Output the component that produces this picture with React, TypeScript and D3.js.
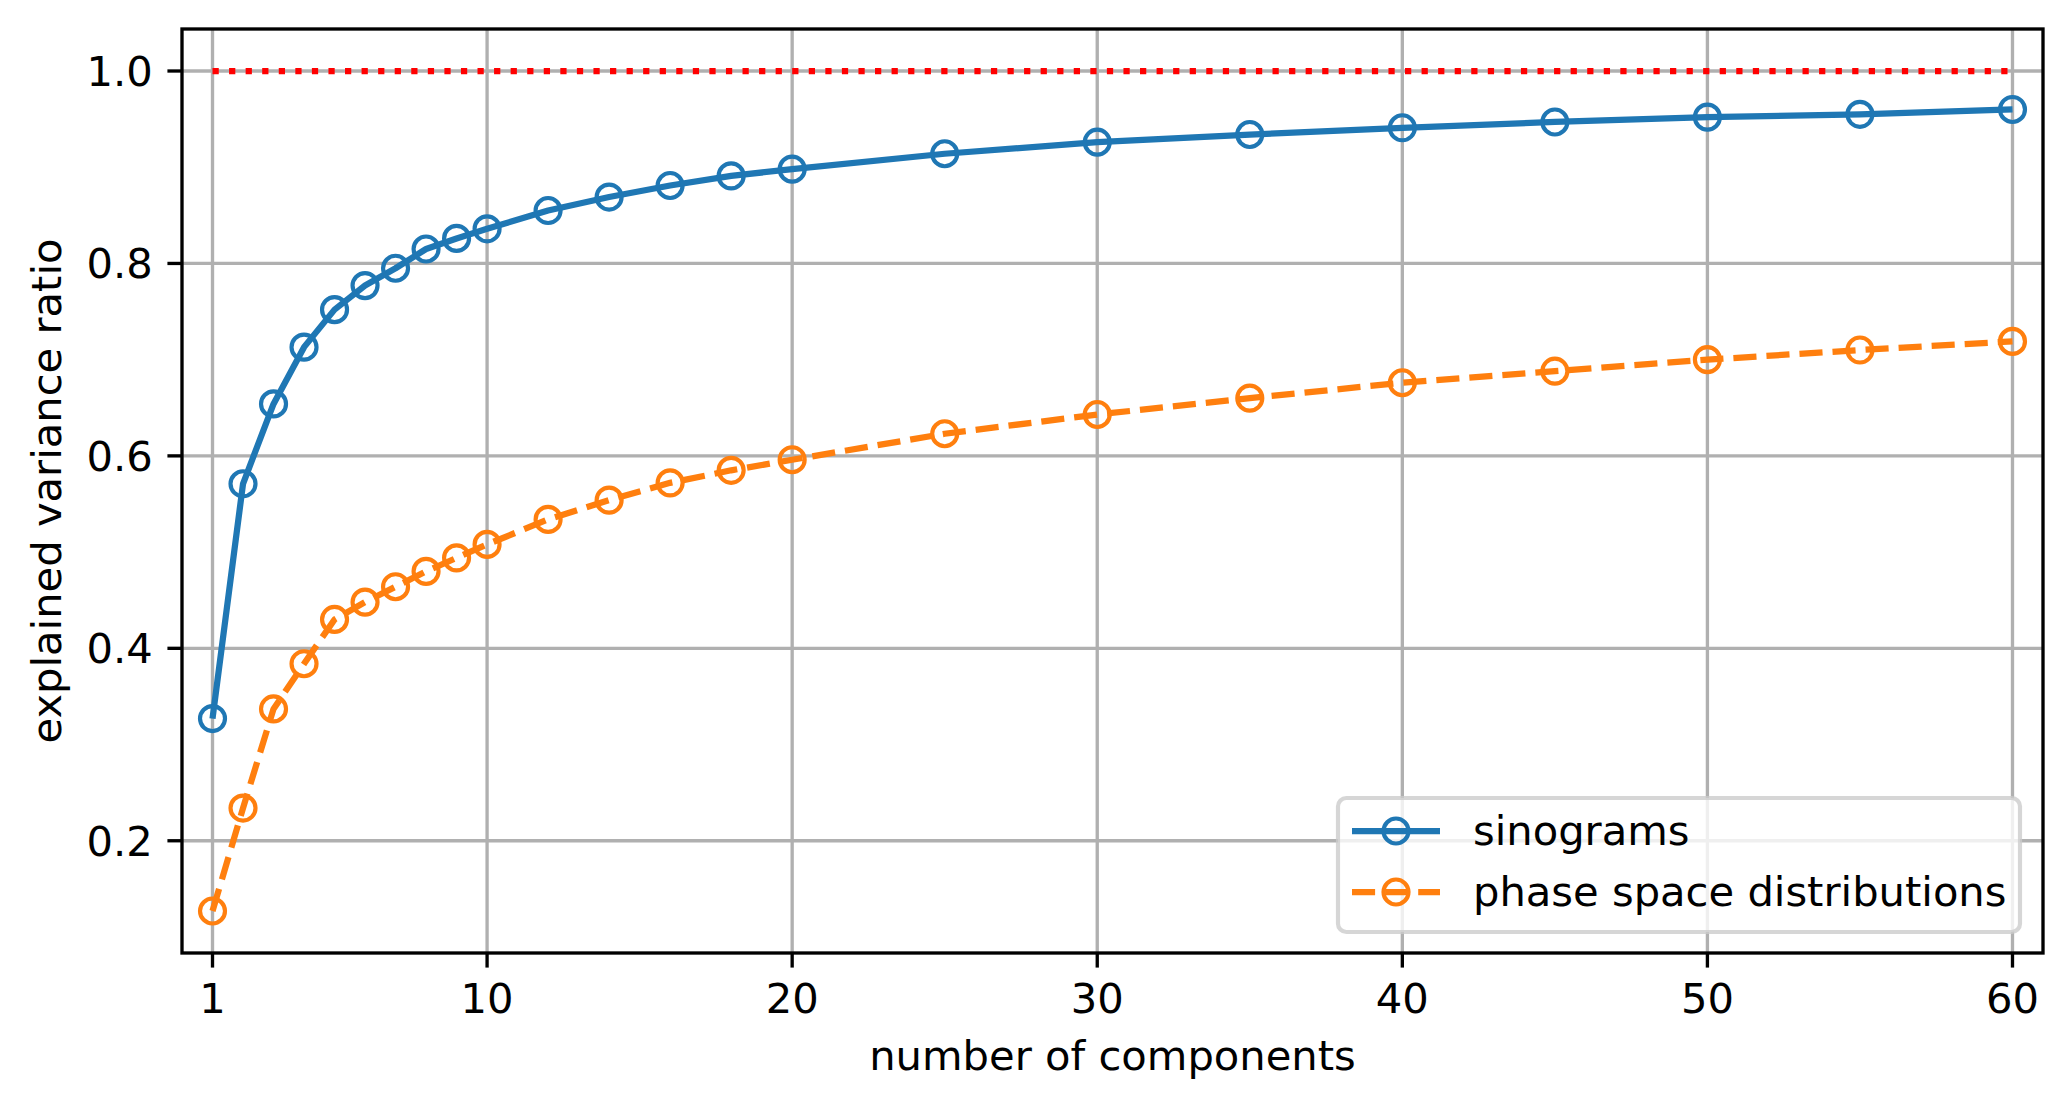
import { useEffect } from 'react';
import * as d3 from 'd3';

// number of PCA components kept
const components = [1, 2, 3, 4, 5, 6, 7, 8, 9, 10, 12, 14, 16, 18, 20, 25, 30, 35, 40, 45, 50, 55, 60];
// cumulative explained variance ratio
const sinograms = [0.327, 0.571, 0.654, 0.713, 0.752, 0.777, 0.795, 0.815, 0.826, 0.836, 0.855, 0.869, 0.881, 0.891, 0.898, 0.914, 0.926, 0.934, 0.941, 0.947, 0.952, 0.955, 0.960];
const phaseSpace = [0.127, 0.234, 0.337, 0.384, 0.430, 0.448, 0.464, 0.480, 0.494, 0.508, 0.534, 0.554, 0.572, 0.585, 0.596, 0.623, 0.643, 0.660, 0.676, 0.688, 0.700, 0.710, 0.719];
const referenceLevel = 1.0;

const xTicks = [1, 10, 20, 30, 40, 50, 60];
const yTicks = [0.2, 0.4, 0.6, 0.8, 1.0];
const xLimits = [0, 61];

const series = [
  { name: 'sinograms', values: sinograms, color: '#1f77b4', dash: 'none' },
  { name: 'phase space distributions', values: phaseSpace, color: '#ff7f0e', dash: '23.1 10' },
];

const W = 2072, H = 1109;
const PT = 300 / 72; // matplotlib points -> px at 300 dpi
const M = { l: 182, r: 2043, t: 29, b: 953 };
const FONT = '"DejaVu Sans", sans-serif';
const FS = 10 * PT;

export default function App() {
  useEffect(() => { document.body.style.margin = '0'; }, []);

  const x = d3.scaleLinear().domain(xLimits).range([M.l, M.r]);
  const all = [...sinograms, ...phaseSpace, referenceLevel];
  const [lo, hi] = d3.extent(all) as [number, number];
  const pad = (hi - lo) * 0.05;
  const y = d3.scaleLinear().domain([lo - pad, hi + pad]).range([M.b, M.t]);

  const line = d3.line<number>()
    .x((_, i) => x(components[i]))
    .y(d => y(d));

  const lw = 1.5 * PT;
  const tickLen = 3.5 * PT;
  const r = 3 * PT;

  // legend box
  const lg = { x0: 1338, y0: 798, x1: 2020, y1: 932 };
  const rowY = [831, 892];
  const hx0 = 1352, hx1 = 1440;

  return (
    <svg width={W} height={H} viewBox={`0 0 ${W} ${H}`} style={{ display: 'block', background: '#fff' }}
      fontFamily={FONT}>
      <defs>
        <clipPath id="plotArea">
          <rect x={M.l} y={M.t} width={M.r - M.l} height={M.b - M.t} />
        </clipPath>
      </defs>
      <rect width={W} height={H} fill="#fff" />

      {/* grid */}
      <g stroke="#b0b0b0" strokeWidth={0.8 * PT}>
        {xTicks.map(t => <line key={'gx' + t} x1={x(t)} x2={x(t)} y1={M.t} y2={M.b} />)}
        {yTicks.map(t => <line key={'gy' + t} x1={M.l} x2={M.r} y1={y(t)} y2={y(t)} />)}
      </g>

      <g clipPath="url(#plotArea)">
        {series.map(s => (
          <g key={s.name}>
            <path d={line(s.values) ?? ''} fill="none" stroke={s.color} strokeWidth={lw}
              strokeDasharray={s.dash} strokeLinejoin="round" />
            {s.values.map((v, i) => (
              <circle key={i} cx={x(components[i])} cy={y(v)} r={r} fill="none"
                stroke={s.color} strokeWidth={PT} />
            ))}
          </g>
        ))}
        <line x1={x(components[0])} x2={x(components[components.length - 1])}
          y1={y(referenceLevel)} y2={y(referenceLevel)}
          stroke="#ff0000" strokeWidth={lw} strokeDasharray={`${lw} ${1.65 * lw}`} />
      </g>

      {/* spines */}
      <rect x={M.l} y={M.t} width={M.r - M.l} height={M.b - M.t} fill="none"
        stroke="#000" strokeWidth={0.8 * PT} strokeLinejoin="miter" />

      {/* x axis ticks */}
      <g fontSize={FS} fill="#000" textAnchor="middle">
        {xTicks.map(t => (
          <g key={'xt' + t}>
            <line x1={x(t)} x2={x(t)} y1={M.b} y2={M.b + tickLen} stroke="#000" strokeWidth={0.8 * PT} />
            <text x={x(t)} y={1013}>{t}</text>
          </g>
        ))}
      </g>
      {/* y axis ticks */}
      <g fontSize={FS} fill="#000" textAnchor="end">
        {yTicks.map(t => (
          <g key={'yt' + t}>
            <line x1={M.l - tickLen} x2={M.l} y1={y(t)} y2={y(t)} stroke="#000" strokeWidth={0.8 * PT} />
            <text x={M.l - 2 * tickLen} y={y(t) + 15}>{d3.format('.1f')(t)}</text>
          </g>
        ))}
      </g>

      <text x={(M.l + M.r) / 2} y={1070} fontSize={FS} textAnchor="middle">number of components</text>
      <text transform={`translate(61,${(M.t + M.b) / 2}) rotate(-90)`} fontSize={FS} textAnchor="middle">
        explained variance ratio
      </text>

      {/* legend */}
      <rect x={lg.x0} y={lg.y0} width={lg.x1 - lg.x0} height={lg.y1 - lg.y0} rx={0.2 * FS}
        fill="#fff" fillOpacity={0.8} stroke="#cccccc" strokeOpacity={0.8} strokeWidth={PT} />
      {series.map((s, i) => (
        <g key={'lg' + s.name}>
          <line x1={hx0} x2={hx1} y1={rowY[i]} y2={rowY[i]} stroke={s.color} strokeWidth={lw}
            strokeDasharray={s.dash} />
          <circle cx={(hx0 + hx1) / 2} cy={rowY[i]} r={r} fill="none" stroke={s.color} strokeWidth={PT} />
          <text x={1473} y={rowY[i] + 14} fontSize={FS} fill="#000">{s.name}</text>
        </g>
      ))}
    </svg>
  );
}
